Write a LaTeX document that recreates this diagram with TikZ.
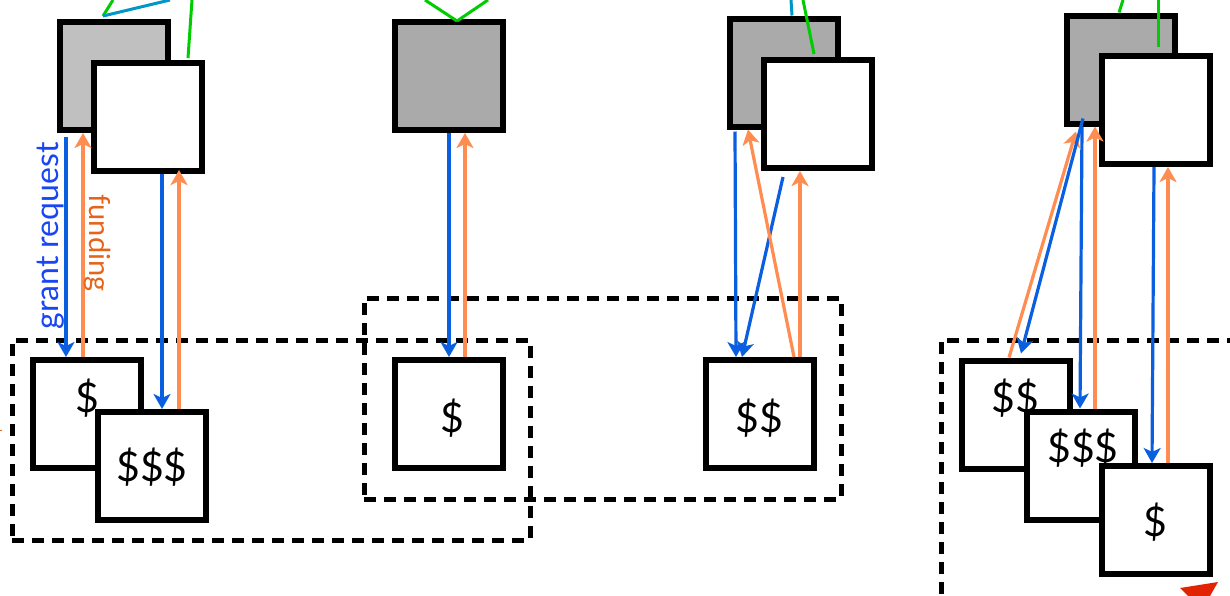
\documentclass[tikz,border=0pt]{standalone}
\usepackage{fontspec}
\setmainfont{Lato}
\usetikzlibrary{arrows.meta}
\definecolor{reqblue}{RGB}{10,95,225}
\definecolor{reqtext}{RGB}{25,70,245}
\definecolor{fundor}{RGB}{255,140,80}
\definecolor{fundtext}{RGB}{230,100,25}
\definecolor{linkgreen}{RGB}{0,205,0}
\definecolor{linkteal}{RGB}{0,150,200}
\definecolor{graylight}{RGB}{192,192,192}
\definecolor{graydark}{RGB}{170,170,170}
\definecolor{alertred}{RGB}{225,35,0}
\tikzset{
  box/.style={draw=black, line width=6pt, minimum width=108pt, minimum height=108pt, inner sep=0pt, fill=white},
  grayA/.style={box, fill=graylight},
  grayB/.style={box, fill=graydark},
  group/.style={draw=black, line width=5pt, dash pattern=on 12pt off 8pt, inner sep=0pt},
  money/.style={font=\fontsize{41}{41}\selectfont, inner sep=0pt},
  tipS/.style={-{Stealth[length=15pt,width=17pt,inset=4pt]}},
  req/.style={draw=reqblue, line width=3.2pt, tipS},
  fund/.style={draw=fundor, line width=3.2pt, tipS},
  gl/.style={draw=linkgreen, line width=3pt},
  tl/.style={draw=linkteal, line width=3pt},
  lab/.style={inner sep=0pt}
}
\begin{document}
\begin{tikzpicture}[x=1pt,y=-1pt]
\useasboundingbox (0,0) rectangle (1230,595);
\clip (0,0) rectangle (1230,595);
\fill[white] (0,0) rectangle (1230,595);

% group outlines
\node[group, minimum width=518pt, minimum height=200pt] (grp1) at (271,440) {};
\node[group, minimum width=477pt, minimum height=201pt] (grp2) at (602.5,398.5) {};
\node[group, minimum width=309pt, minimum height=280pt] (grp3) at (1095.5,480) {};

% column 1
\node[grayA] (A1) at (114,76) {};
\node[box] (B1) at (148,117) {};
\node[box] (L1a) at (87,414) {};
\node[money] (m1a) at (87,398) {\$};
\node[box] (L1b) at (152,466) {};
\node[money] (m1b) at (152,467) {\$\$\$};

% column 2
\node[grayB] (A2) at (449,76) {};
\node[box] (L2) at (449,414) {};
\node[money] (m2) at (452,418) {\$};

% column 3
\node[grayB] (A3) at (783.5,72.5) {};
\node[box] (B3) at (817.5,114) {};
\node[box] (L3) at (760,414) {};
\node[money] (m3) at (759,418) {\$\$};

% column 4
\node[grayB] (A4) at (1121,69.5) {};
\node[box] (B4) at (1156,110) {};
\node[box] (L4a) at (1015.5,414.5) {};
\node[money] (m4a) at (1015,398) {\$\$};
\node[box] (L4b) at (1080.5,465.5) {};
\node[money] (m4b) at (1083,448) {\$\$\$};
\node[box] (L4c) at (1156,520) {};
\node[money] (m4c) at (1155,522) {\$};

% off-picture link ends
\coordinate (o1a) at (113,0);
\coordinate (o1b) at (170,0);
\coordinate (o1c) at (192,0);
\coordinate (o2a) at (425,0);
\coordinate (o2b) at (488,0);
\coordinate (o3a) at (791,0);
\coordinate (o3b) at (803,0);
\coordinate (o4a) at (1123,0);
\coordinate (o4b) at (1158,0);
\coordinate (j1) at (103,16);
\coordinate (j2) at (457,21);

\draw[gl] (j1) -- (o1a);
\draw[tl] (j1) -- (o1b);
\draw[gl] ([xshift=40pt,yshift=2pt]B1.north) -- (o1c);
\draw[gl] (j2) -- (o2a);
\draw[gl] (j2) -- (o2b);
\draw[tl] ([xshift=8.5pt]A3.north) -- (o3a);
\draw[gl] ([xshift=-3.5pt,yshift=3pt]B3.north) -- (o3b);
\draw[gl] ([xshift=-2pt]A4.north) -- (o4a);
\draw[gl] ([xshift=2pt,yshift=6pt]B4.north) -- (o4b);

% column 1 arrows
\draw[req] ([xshift=-48pt,yshift=-4pt]A1.south) -- ([xshift=-21pt]L1a.north);
\draw[fund] ([xshift=-4pt]L1a.north) -- ([xshift=-31pt]A1.south);
\draw[req] ([xshift=14pt]B1.south) -- ([xshift=10pt]L1b.north);
\draw[fund] ([xshift=27pt]L1b.north) -- ([xshift=31pt,yshift=4pt]B1.south);
\node[lab, text=reqtext, rotate=90, font=\fontsize{32}{32}\selectfont] (lreq) at (51,236) {grant request};
\node[lab, text=fundtext, rotate=-90, font=\fontsize{29}{29}\selectfont] (lfund) at (98,243) {funding};

% column 2 arrows
\draw[req] (A2.south) -- (L2.north);
\draw[fund] ([xshift=16pt]L2.north) -- ([xshift=16pt]A2.south);

% column 3 arrows
\draw[req] ([xshift=-48.5pt,yshift=-2pt]A3.south) -- ([xshift=-24pt]L3.north);
\draw[req] ([xshift=-34.5pt,yshift=-6pt]B3.south) -- ([xshift=-18pt]L3.north);
\draw[fund] ([xshift=34pt]L3.north) -- ([xshift=-35.5pt]A3.south);
\draw[fund] ([xshift=40pt]L3.north) -- ([xshift=-17.5pt]B3.south);

% column 4 arrows
\draw[fund] ([xshift=-6.5pt]L4a.north) -- ([xshift=-45pt,yshift=-5pt]A4.south);
\draw[req] ([xshift=-38pt,yshift=8pt]A4.south) -- ([xshift=5.5pt,yshift=4pt]L4a.north);
\draw[req] ([xshift=-39pt]A4.south) -- ([xshift=-0.5pt]L4b.north);
\draw[fund] ([xshift=14.5pt]L4b.north) -- ([xshift=-26pt]A4.south);
\draw[req] ([xshift=-2pt]B4.south) -- ([xshift=-4pt]L4c.north);
\draw[fund] ([xshift=12pt]L4c.north) -- ([xshift=12pt]B4.south);

% stray marks
\draw[fundtext, line width=0.6pt] (0,430) -- (2,430);
\fill[alertred] (1180,588) -- (1218,582) -- (1210,596) -- (1188,596) -- cycle;
\end{tikzpicture}
\end{document}
